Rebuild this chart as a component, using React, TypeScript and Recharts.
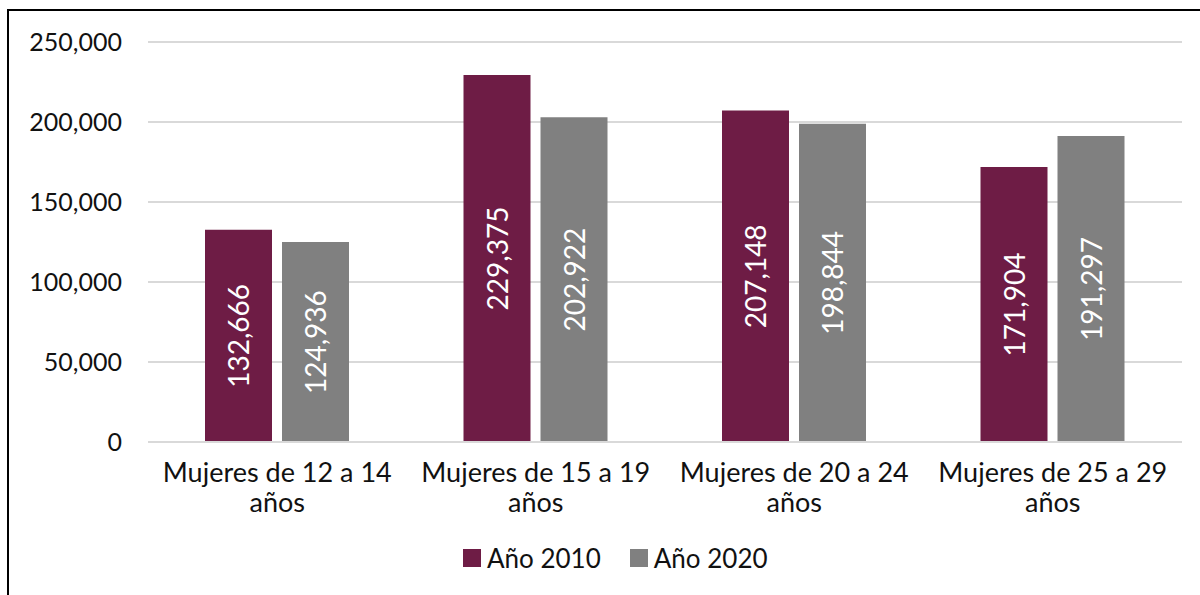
import React from 'react';
import { BarChart, Bar, XAxis, YAxis, CartesianGrid, LabelList, Legend } from 'recharts';

const categories = [
  'Mujeres de 12 a 14 años',
  'Mujeres de 15 a 19 años',
  'Mujeres de 20 a 24 años',
  'Mujeres de 25 a 29 años',
];
const values2010 = [132666, 229375, 207148, 171904];
const values2020 = [124936, 202922, 198844, 191297];
const yTicks = [0, 50000, 100000, 150000, 200000, 250000];
const seriesNames = ['Año 2010', 'Año 2020'];
const seriesColors = ['#6E1C45', '#808080'];

const data = categories.map((c, i) => ({ name: c, a: values2010[i], b: values2020[i] }));

const fmt = (v: number) => v.toLocaleString('en-US');

const XTick = (props: any) => {
  const { x, y, payload } = props;
  const words = String(payload.value).split(' ');
  const last = words.pop();
  return (
    <text x={x} y={y} textAnchor="middle" fontSize={27} fontFamily="Lato" fill="#111">
      <tspan x={x} y={y + 40}>{words.join(' ')}</tspan>
      <tspan x={x} dy={30}>{last}</tspan>
    </text>
  );
};

const BarLabel = (props: any) => {
  const { x, y, width, height, value } = props;
  const cx = x + width / 2;
  const cy = y + height / 2;
  return (
    <text
      x={cx}
      y={cy}
      transform={`rotate(-90 ${cx} ${cy})`}
      textAnchor="middle"
      dominantBaseline="central"
      fill="#fff"
      fontSize={28}
      fontFamily="Lato"
    >
      {fmt(value)}
    </text>
  );
};

const LegendContent = () => (
  <div style={{ display: 'flex', alignItems: 'center', fontFamily: 'Lato', fontSize: 26, color: '#111' }}>
    {seriesNames.map((n, i) => (
      <div key={n} style={{ display: 'flex', alignItems: 'center', marginRight: i === 0 ? 29 : 0 }}>
        <div style={{ width: 18, height: 18, background: seriesColors[i], marginRight: 6 }} />
        <span>{n}</span>
      </div>
    ))}
  </div>
);

export default function App() {
  return (
    <div style={{ position: 'absolute', left: 0, top: 0, width: 1200, height: 595, overflow: 'hidden', background: '#fff' }}>
      <div
        style={{
          position: 'absolute',
          left: 7,
          top: 9,
          width: 1300,
          height: 700,
          border: '2px solid #000',
          boxSizing: 'border-box',
        }}
      />
      <div style={{ position: 'absolute', left: 0, top: 0 }}>
        <BarChart
          width={1200}
          height={595}
          data={data}
          margin={{ top: 42, right: 18, left: 1, bottom: 0 }}
          barCategoryGap={57}
          barGap={10}
        >
          <CartesianGrid vertical={false} stroke="#D9D9D9" strokeWidth={2} />
          <XAxis
            dataKey="name"
            height={153}
            tickLine={false}
            axisLine={{ stroke: '#D9D9D9', strokeWidth: 2 }}
            tickSize={0}
            tickMargin={0}
            tick={<XTick />}
            interval={0}
          />
          <YAxis
            width={147}
            domain={[0, 250000]}
            ticks={yTicks}
            tickFormatter={fmt}
            tickLine={false}
            axisLine={false}
            tickSize={0}
            tickMargin={26}
            tick={{ fontSize: 25, fontFamily: 'Lato', fill: '#111' }}
          />
          <Legend
            align="center"
            verticalAlign="middle"
            content={<LegendContent />}
            wrapperStyle={{ left: 463, top: 542, width: 'auto', height: 'auto' }}
          />
          <Bar dataKey="a" name={seriesNames[0]} fill={seriesColors[0]} isAnimationActive={false}>
            <LabelList dataKey="a" content={<BarLabel />} />
          </Bar>
          <Bar dataKey="b" name={seriesNames[1]} fill={seriesColors[1]} isAnimationActive={false}>
            <LabelList dataKey="b" content={<BarLabel />} />
          </Bar>
        </BarChart>
      </div>
    </div>
  );
}
